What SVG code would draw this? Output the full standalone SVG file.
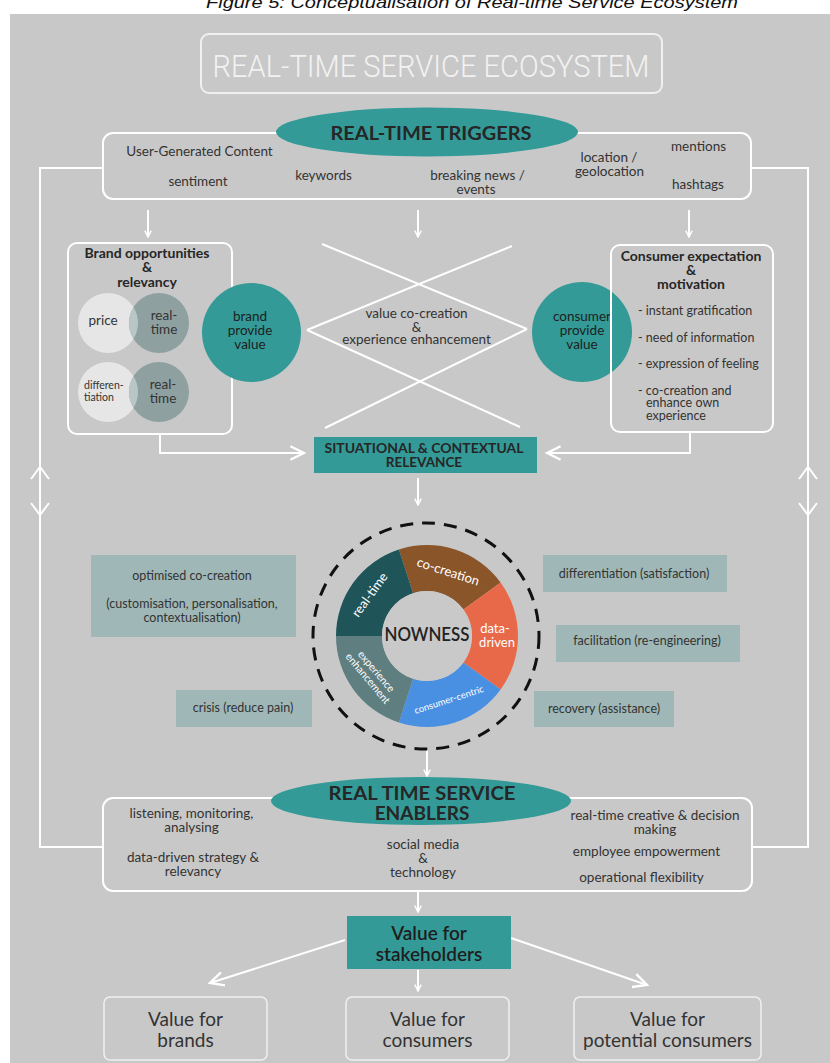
<svg xmlns="http://www.w3.org/2000/svg" width="830" height="1063" viewBox="0 0 830 1063">
<style>
text{font-family:Lato,"Noto Sans","Liberation Sans",sans-serif;fill:#333;}
.t13{font-size:13.5px;text-anchor:middle;}
.t12{font-size:12.5px;text-anchor:middle;}
.hb{font-weight:bold;fill:#262626;text-anchor:middle;}
.wl{fill:none;stroke:#fff;stroke-width:2;}
.box{fill:none;stroke:#fff;stroke-width:2;}
.teal{fill:#339a97;}
.side{fill:#9fb8b7;}
.seg{fill:#fff;text-anchor:middle;}
.big{font-size:19px;text-anchor:middle;fill:#333;}
</style>
<defs>
<marker id="ah" viewBox="0 0 10 10" refX="9" refY="5" markerWidth="8" markerHeight="8" markerUnits="userSpaceOnUse" orient="auto">
<path d="M1,1 L9,5 L1,9" fill="none" stroke="#fff" stroke-width="1.8"/>
</marker>
<marker id="ahL" viewBox="0 0 10 10" refX="9" refY="5" markerWidth="17" markerHeight="17" markerUnits="userSpaceOnUse" orient="auto">
<path d="M1,1 L9,5 L1,9" fill="none" stroke="#fff" stroke-width="1.4"/>
</marker>
</defs>
<rect width="830" height="1063" fill="#fff"/>
<text x="472" y="8" font-size="17" text-anchor="middle" textLength="532" lengthAdjust="spacingAndGlyphs" style="font-family:'Liberation Sans',sans-serif;font-style:italic;fill:#111">Figure 5: Conceptualisation of Real-time Service Ecosystem</text>
<rect x="10" y="14" width="820" height="1049" fill="#c8c8c8"/>

<g id="connectors">
<polyline class="wl" points="103,168 40,168 40,847 103,847"/>
<polyline class="wl" points="751,168 808,168 808,847 752,847"/>
<polyline class="wl" points="31,479 40,467 49,479"/>
<polyline class="wl" points="31,503 40,515 49,503"/>
<polyline class="wl" points="799,479 808,467 817,479"/>
<polyline class="wl" points="799,503 808,515 817,503"/>
<line class="wl" x1="148" y1="210" x2="148" y2="237" stroke-width="1.5" marker-end="url(#ah)"/>
<line class="wl" x1="418" y1="210" x2="418" y2="237" stroke-width="1.5" marker-end="url(#ah)"/>
<line class="wl" x1="689" y1="210" x2="689" y2="237" stroke-width="1.5" marker-end="url(#ah)"/>
<line class="wl" x1="322" y1="244" x2="527" y2="329" stroke-width="1.8"/>
<line class="wl" x1="512" y1="246" x2="307" y2="330" stroke-width="1.8"/>
<line class="wl" x1="307" y1="330" x2="520" y2="427" stroke-width="1.8"/>
<line class="wl" x1="527" y1="329" x2="325" y2="428" stroke-width="1.8"/>
<polyline class="wl" points="160,434 160,453 304,453" marker-end="url(#ahL)"/>
<polyline class="wl" points="690,432 690,453 547,453" marker-end="url(#ahL)"/>
<line class="wl" x1="418" y1="478" x2="418" y2="505" stroke-width="1.5" marker-end="url(#ah)"/>
<line class="wl" x1="427" y1="750" x2="427" y2="776" stroke-width="2" marker-end="url(#ah)"/>
<line class="wl" x1="418" y1="892" x2="418" y2="912" stroke-width="1.5" marker-end="url(#ah)"/>
<line class="wl" x1="418" y1="970" x2="418" y2="991" stroke-width="1.5" marker-end="url(#ah)"/>
<line class="wl" x1="345" y1="940" x2="210" y2="983" stroke-width="2" marker-end="url(#ahL)"/>
<line class="wl" x1="511" y1="938" x2="647" y2="985" stroke-width="2" marker-end="url(#ahL)"/>
</g>

<g id="title">
<rect x="201" y="34" width="461" height="59" rx="8" fill="none" stroke="#f0f0f0" stroke-width="2"/>
<text x="431" y="77" text-anchor="middle" font-size="31" textLength="437" lengthAdjust="spacingAndGlyphs" style="font-family:Roboto,'Liberation Sans',sans-serif;font-weight:300;fill:#f2f2f2">REAL-TIME SERVICE ECOSYSTEM</text>
</g>

<g id="triggers">
<rect class="box" x="103" y="133" width="648" height="66" rx="10"/>
<ellipse class="teal" cx="427" cy="132" rx="151" ry="24.5"/>
<text class="hb" x="431" y="140" font-size="19" textLength="201" lengthAdjust="spacingAndGlyphs">REAL-TIME TRIGGERS</text>
<text class="t13" x="199.5" y="156" font-size="14">User-Generated Content</text>
<text class="t13" x="198" y="186">sentiment</text>
<text class="t13" x="323.5" y="180">keywords</text>
<text class="t13" x="477.5" y="180">breaking news /</text>
<text class="t13" x="476" y="194">events</text>
<text class="t13" x="609" y="162">location /</text>
<text class="t13" x="609.5" y="176">geolocation</text>
<text class="t13" x="698.5" y="151">mentions</text>
<text class="t13" x="698" y="189">hashtags</text>
</g>

<g id="brand-opportunities">
<rect class="box" x="68" y="243" width="164" height="191" rx="9"/>
<text class="hb" x="147" y="258" font-size="14">Brand opportunities</text>
<text class="hb" x="147" y="272" font-size="14">&amp;</text>
<text class="hb" x="147" y="287" font-size="14">relevancy</text>
<circle cx="108" cy="323" r="30" fill="#e6e6e6"/>
<circle cx="159" cy="323" r="30" fill="#8fa0a1"/>
<path d="M133.5,307.2 A30,30 0 0 1 133.5,338.8 A30,30 0 0 1 133.5,307.2 Z" fill="#b7c7c8"/>
<text class="t13" x="103" y="325" font-size="13">price</text>
<text class="t13" x="164" y="320" font-size="13">real-</text>
<text class="t13" x="164" y="334" font-size="13">time</text>
<circle cx="108" cy="392" r="30" fill="#e6e6e6"/>
<circle cx="159" cy="392" r="30" fill="#8fa0a1"/>
<path d="M133.5,376.2 A30,30 0 0 1 133.5,407.8 A30,30 0 0 1 133.5,376.2 Z" fill="#b7c7c8"/>
<text x="84" y="389" font-size="10.5">differen-</text>
<text x="84" y="401" font-size="10.5">tiation</text>
<text class="t13" x="163" y="389" font-size="13">real-</text>
<text class="t13" x="163" y="403" font-size="13">time</text>
</g>

<g id="brand-provide-value">
<circle class="teal" cx="251.5" cy="332.5" r="49.5"/>
<text class="t13" x="250" y="321" font-size="14" style="fill:#1e1e1e">brand</text>
<text class="t13" x="250" y="335" font-size="14" style="fill:#1e1e1e">provide</text>
<text class="t13" x="250" y="349" font-size="14" style="fill:#1e1e1e">value</text>
</g>

<g id="value-co-creation">
<text class="t13" x="416.5" y="318">value co-creation</text>
<text class="t13" x="416.5" y="332">&amp;</text>
<text class="t13" x="416.5" y="344">experience enhancement</text>
</g>

<g id="consumer-provide-value">
<circle class="teal" cx="582" cy="332" r="50"/>
<text class="t13" x="582" y="321" font-size="14" style="fill:#1e1e1e">consumer</text>
<text class="t13" x="582" y="335" font-size="14" style="fill:#1e1e1e">provide</text>
<text class="t13" x="582" y="349" font-size="14" style="fill:#1e1e1e">value</text>
</g>

<g id="consumer-expectation">
<rect class="box" x="611" y="245" width="162" height="187" rx="9"/>
<text class="hb" x="691" y="261" font-size="14">Consumer expectation</text>
<text class="hb" x="691" y="275" font-size="14">&amp;</text>
<text class="hb" x="691" y="289" font-size="14">motivation</text>
<text x="638" y="315" font-size="12.5">- instant gratification</text>
<text x="638" y="342" font-size="12.5">- need of information</text>
<text x="638" y="368" font-size="12.5">- expression of feeling</text>
<text x="638" y="395" font-size="12.5">- co-creation and</text>
<text x="646" y="407" font-size="12.5">enhance own</text>
<text x="646" y="420" font-size="12.5">experience</text>
</g>

<g id="situational">
<rect class="teal" x="314" y="437" width="223" height="36"/>
<text class="hb" x="424" y="453" font-size="13.5" textLength="199" lengthAdjust="spacingAndGlyphs">SITUATIONAL &amp; CONTEXTUAL</text>
<text class="hb" x="424" y="467" font-size="13.5">RELEVANCE</text>
</g>

<g id="nowness">
<circle cx="426" cy="636" r="113" fill="none" stroke="#111" stroke-width="3" stroke-dasharray="13 9"/>
<path d="M398.88,549.45 A91,91 0 0 1 500.62,582.51 L463.41,609.55 A45,45 0 0 0 413.09,593.2 Z" fill="#8a5529"/>
<path d="M500.62,582.51 A91,91 0 0 1 500.62,689.49 L463.41,662.45 A45,45 0 0 0 463.41,609.55 Z" fill="#e8694a"/>
<path d="M500.62,689.49 A91,91 0 0 1 398.88,722.55 L413.09,678.8 A45,45 0 0 0 463.41,662.45 Z" fill="#4a90e2"/>
<path d="M398.88,722.55 A91,91 0 0 1 336,636 L382,636 A45,45 0 0 0 413.09,678.8 Z" fill="#5e7e7f"/>
<path d="M336,636 A91,91 0 0 1 398.88,549.45 L413.09,593.2 A45,45 0 0 0 382,636 Z" fill="#1f5459"/>
<circle cx="427" cy="636" r="45" fill="#c9c9c9"/>
<text x="427" y="641" font-size="19" text-anchor="middle" textLength="85" lengthAdjust="spacingAndGlyphs" style="fill:#222;font-weight:600">NOWNESS</text>
<text class="seg" font-size="13" transform="translate(448,572) rotate(18)" y="4">co-creation</text>
<text class="seg" font-size="13" x="495" y="633">data-</text>
<text class="seg" font-size="13" x="497" y="647">driven</text>
<text class="seg" font-size="9.5" transform="translate(449,700) rotate(-18)" y="3">consumer-centric</text>
<text class="seg" font-size="10.5" transform="translate(372,675) rotate(50)" y="-2">experience</text>
<text class="seg" font-size="10.5" transform="translate(372,675) rotate(50)" y="9">enhancement</text>
<text class="seg" font-size="13" transform="translate(370,595) rotate(-54)" y="4">real-time</text>
</g>

<g id="optimised-co-creation">
<rect class="side" x="91" y="555" width="205" height="82"/>
<text class="t12" x="192" y="580">optimised co-creation</text>
<text class="t12" x="192" y="608">(customisation, personalisation,</text>
<text class="t12" x="192" y="622">contextualisation)</text>
</g>
<g id="crisis">
<rect class="side" x="176" y="690" width="136" height="37"/>
<text class="t12" x="243" y="712">crisis (reduce pain)</text>
</g>
<g id="differentiation">
<rect class="side" x="543" y="555" width="184" height="37"/>
<text class="t12" x="634" y="578">differentiation (satisfaction)</text>
</g>
<g id="facilitation">
<rect class="side" x="556" y="625" width="184" height="37"/>
<text class="t12" x="647" y="645">facilitation (re-engineering)</text>
</g>
<g id="recovery">
<rect class="side" x="534" y="691" width="140" height="36"/>
<text class="t12" x="604" y="713">recovery (assistance)</text>
</g>

<g id="enablers">
<rect class="box" x="103" y="798" width="649" height="93" rx="10"/>
<ellipse class="teal" cx="421" cy="801" rx="150" ry="24"/>
<text class="hb" x="422" y="800" font-size="19" textLength="187" lengthAdjust="spacingAndGlyphs">REAL TIME SERVICE</text>
<text class="hb" x="422" y="820" font-size="19">ENABLERS</text>
<text class="t13" x="191.5" y="818">listening, monitoring,</text>
<text class="t13" x="191.5" y="832">analysing</text>
<text class="t13" x="193" y="862">data-driven strategy &amp;</text>
<text class="t13" x="193" y="876">relevancy</text>
<text class="t13" x="423" y="849">social media</text>
<text class="t13" x="423" y="863">&amp;</text>
<text class="t13" x="423" y="877">technology</text>
<text class="t13" x="655" y="820">real-time creative &amp; decision</text>
<text class="t13" x="655" y="834">making</text>
<text class="t13" x="646.5" y="856">employee empowerment</text>
<text class="t13" x="641.5" y="882">operational flexibility</text>
</g>

<g id="value-stakeholders">
<rect class="teal" x="347" y="916" width="164" height="53"/>
<text class="big" x="429" y="940" style="fill:#1e1e1e;font-weight:600">Value for</text>
<text class="big" x="429" y="961" style="fill:#1e1e1e;font-weight:600">stakeholders</text>
</g>
<g id="value-brands">
<rect x="104" y="997" width="163" height="63" rx="6" fill="none" stroke="#f0f0f0" stroke-width="1.5"/>
<text class="big" x="185.5" y="1026">Value for</text>
<text class="big" x="185.5" y="1047">brands</text>
</g>
<g id="value-consumers">
<rect x="346" y="997" width="163" height="63" rx="6" fill="none" stroke="#f0f0f0" stroke-width="1.5"/>
<text class="big" x="427.5" y="1026">Value for</text>
<text class="big" x="427.5" y="1047">consumers</text>
</g>
<g id="value-potential">
<rect x="574" y="997" width="187" height="63" rx="6" fill="none" stroke="#f0f0f0" stroke-width="1.5"/>
<text class="big" x="667.5" y="1026">Value for</text>
<text class="big" x="667.5" y="1047">potential consumers</text>
</g>
</svg>
